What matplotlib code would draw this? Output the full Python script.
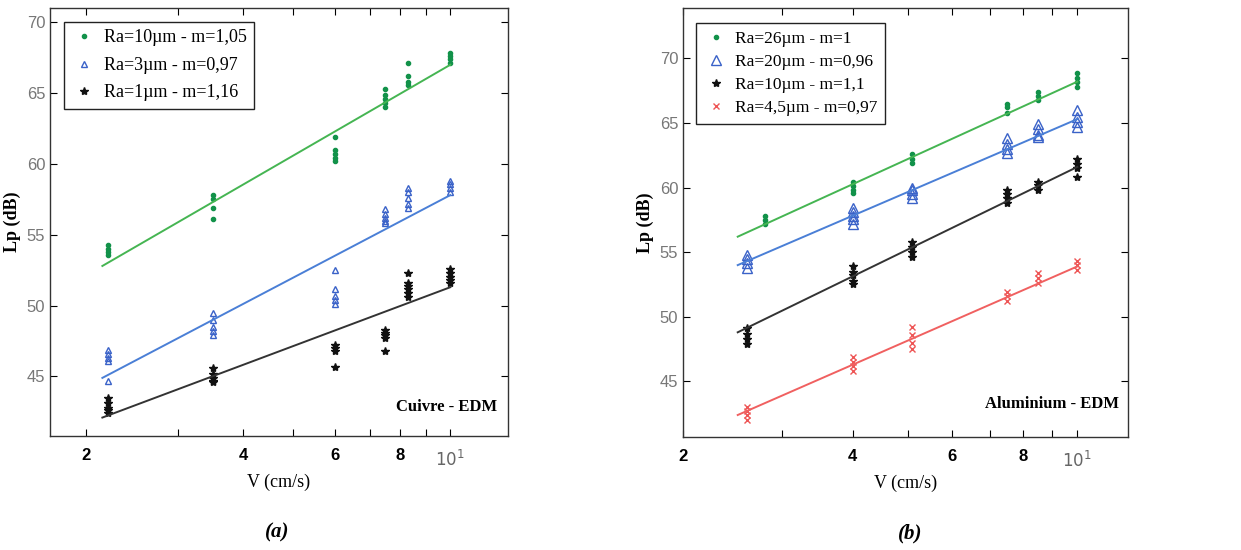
import numpy as np
import matplotlib
matplotlib.use("Agg")
import matplotlib.pyplot as plt
from matplotlib.ticker import FixedLocator, NullFormatter

plt.rcParams['font.family'] = ['Liberation Serif', 'DejaVu Serif']

# ---- panel (a): Cuivre - EDM ----
va = [2.2, 3.5, 6, 7.5, 8.3, 10]
a_green = [[54.3, 54.0, 53.8, 53.6], [57.8, 57.5, 56.9, 56.1], [61.9, 61.0, 60.7, 60.4, 60.2],
           [65.3, 64.9, 64.6, 64.3, 64.0], [67.1, 66.2, 65.8, 65.6], [67.8, 67.6, 67.4, 67.1]]
a_blue = [[46.9, 46.6, 46.3, 46.1, 44.7], [49.5, 49.0, 48.5, 48.2, 47.9], [52.5, 51.2, 50.7, 50.4, 50.1],
          [56.8, 56.5, 56.2, 56.0, 55.8], [58.3, 58.0, 57.6, 57.2, 56.9], [58.8, 58.6, 58.3, 58.0]]
a_black = [[43.5, 43.1, 42.8, 42.6, 42.4], [45.6, 45.2, 44.9, 44.7, 44.6], [47.2, 47.0, 46.8, 45.7],
           [48.3, 48.1, 47.9, 47.7, 46.8], [52.3, 51.6, 51.4, 51.2, 50.9, 50.6], [52.6, 52.3, 52.0, 51.8, 51.6]]
a_fit_x = [2.15, 10]
a_fit = {'green': [52.8, 67.0], 'blue': [44.9, 57.8], 'black': [42.1, 51.3]}
a_labels = ['Ra=10µm - m=1,05', 'Ra=3µm - m=0,97', 'Ra=1µm - m=1,16']

# ---- panel (b): Aluminium - EDM ----
vb = [2.6, 4, 5.1, 7.5, 8.5, 10]
vb_green = [2.8, 4, 5.1, 7.5, 8.5, 10]
b_green = [[57.8, 57.5, 57.2], [60.4, 60.1, 59.8, 59.6], [62.6, 62.2, 61.9],
           [66.5, 66.2, 65.8], [67.4, 67.1, 66.8], [68.9, 68.5, 68.2, 67.8]]
b_blue = [[54.8, 54.5, 54.2, 53.8], [58.4, 58.1, 57.8, 57.6, 57.2], [60.0, 59.8, 59.5, 59.2],
          [63.8, 63.4, 63.0, 62.7], [64.9, 64.5, 64.1, 63.9], [66.0, 65.5, 65.1, 64.7]]
b_black = [[49.1, 48.7, 48.3, 47.9], [53.9, 53.5, 53.2, 52.8, 52.5], [55.8, 55.4, 55.0, 54.6],
           [59.8, 59.5, 59.2, 58.8], [60.4, 60.2, 59.8], [62.2, 61.8, 61.5, 60.8]]
b_red = [[43.0, 42.7, 42.4, 42.0], [46.9, 46.5, 46.2, 45.8], [49.2, 48.6, 48.0, 47.5],
         [51.9, 51.6, 51.2], [53.4, 53.0, 52.6], [54.3, 54.0, 53.6]]
b_fit_x = [2.5, 10]
b_fit = {'green': [56.2, 68.2], 'blue': [54.0, 65.3], 'black': [48.8, 61.6], 'red': [42.4, 53.9]}
b_labels = ['Ra=26µm - m=1', 'Ra=20µm - m=0,96', 'Ra=10µm - m=1,1', 'Ra=4,5µm - m=0,97']

yticks = [45, 50, 55, 60, 65, 70]
xticks = [2, 4, 6, 8, 10]
xtick_labels = ['2', '4', '6', '8', '$10^1$']

mk_col = {'green': '#12924a', 'blue': '#3a62c8', 'black': '#111111', 'red': '#ee5555'}
ln_col = {'green': '#45b552', 'blue': '#4a7fd6', 'black': '#333333', 'red': '#f06060'}
style = {'green': dict(marker='.', ms=6),
         'blue': dict(marker='^', ms=5, mfc='none', mew=1.0),
         'black': dict(marker='*', ms=6),
         'red': dict(marker='x', ms=5, mew=1.0)}


def flat(v, groups):
    xs, ys = [], []
    for x, g in zip(v, groups):
        xs += [x] * len(g)
        ys += g
    return xs, ys


def setup(ax, xlim, ylim):
    ax.set_xscale('log')
    ax.set_xlim(*xlim)
    ax.set_ylim(*ylim)
    ax.xaxis.set_major_locator(FixedLocator(xticks))
    ax.xaxis.set_minor_locator(FixedLocator([3, 5, 7, 9]))
    ax.xaxis.set_minor_formatter(NullFormatter())
    ax.set_xticklabels(xtick_labels)
    ax.set_yticks(yticks)
    ax.tick_params(which='both', direction='in', top=True, right=True, length=5, width=0.8)
    ax.tick_params(axis='x', pad=9)
    for t in ax.get_yticklabels():
        t.set_family('Liberation Sans')
        t.set_color('#777777')
        t.set_fontsize(12)
    for i, t in enumerate(ax.get_xticklabels()):
        t.set_family('Liberation Sans')
        t.set_fontsize(12)
        if i < 4:
            t.set_fontweight('bold')
        else:
            t.set_color('#666666')
    for s in ax.spines.values():
        s.set_color('#333333')
        s.set_linewidth(1.0)
    ax.set_xlabel('V (cm/s)', fontsize=13, labelpad=4)
    ax.set_ylabel('Lp (dB)', fontsize=13, fontweight='bold', labelpad=4)


fig = plt.figure(figsize=(12.41, 5.5), dpi=100)
ax1 = fig.add_axes([0.0403, 0.2073, 0.369, 0.778])
ax2 = fig.add_axes([0.5504, 0.2055, 0.3586, 0.780])

for key, groups, lab in zip(['green', 'blue', 'black'], [a_green, a_blue, a_black], a_labels):
    xs, ys = flat(va, groups)
    ax1.plot(xs, ys, ls='none', color=mk_col[key], label=lab, **style[key])
    ax1.plot(a_fit_x, a_fit[key], color=ln_col[key], lw=1.4)

for key, v, groups, lab in zip(['green', 'blue', 'black', 'red'], [vb_green, vb, vb, vb],
                               [b_green, b_blue, b_black, b_red], b_labels):
    xs, ys = flat(v, groups)
    st = dict(style[key])
    if key == 'blue':
        st['ms'] = 7
    ax2.plot(xs, ys, ls='none', color=mk_col[key], label=lab, **st)
    ax2.plot(b_fit_x, b_fit[key], color=ln_col[key], lw=1.4)

setup(ax1, (1.706, 12.9), (40.8, 71))
setup(ax2, (2.0, 12.3), (40.7, 73.9))

leg1 = ax1.legend(loc='upper left', bbox_to_anchor=(0.031, 0.967), borderaxespad=0, fontsize=13,
                  fancybox=False, edgecolor='#222222', framealpha=1,
                  labelspacing=0.58, handletextpad=0.4, borderpad=0.4, handlelength=1.4)
leg2 = ax2.legend(loc='upper left', bbox_to_anchor=(0.029, 0.965), borderaxespad=0, fontsize=12.5,
                  fancybox=False, edgecolor='#222222', framealpha=1,
                  labelspacing=0.4, handletextpad=0.4, borderpad=0.45, handlelength=1.4)
for leg in (leg1, leg2):
    leg.get_frame().set_linewidth(1.0)

ax1.text(0.976, 0.068, 'Cuivre - EDM', transform=ax1.transAxes, ha='right', va='center',
         fontsize=12, fontweight='bold')
ax2.text(0.98, 0.077, 'Aluminium - EDM', transform=ax2.transAxes, ha='right', va='center',
         fontsize=12, fontweight='bold')

fig.text(277 / 1241, 1 - 532 / 550, '(a)', ha='center', va='center', fontsize=15,
         fontweight='bold', style='italic')
fig.text(910 / 1241, 1 - 533 / 550, '(b)', ha='center', va='center', fontsize=15,
         fontweight='bold', style='italic')

fig.savefig('out.png', dpi=100)
